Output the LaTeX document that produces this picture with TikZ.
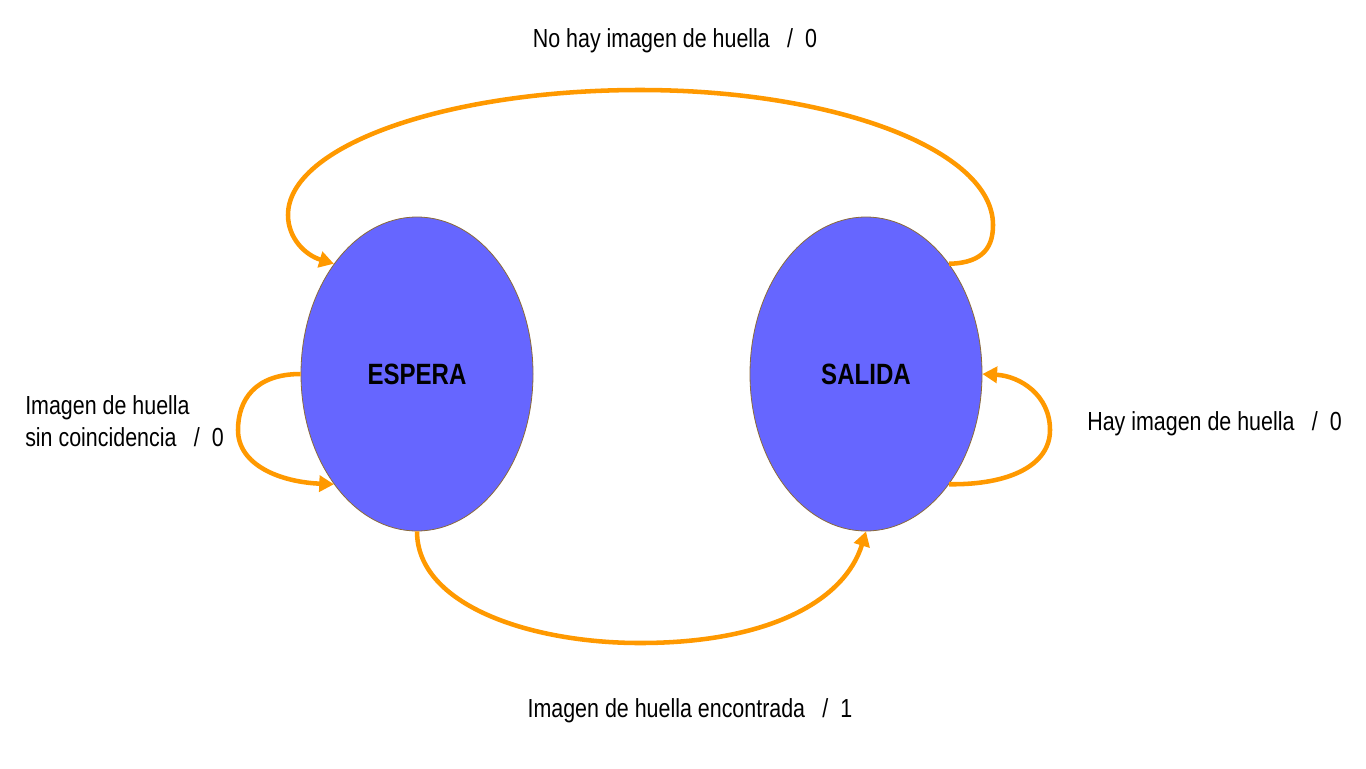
\documentclass[tikz,border=0pt]{standalone}
\usepackage{fontspec}
\setmainfont{Liberation Sans}[FakeStretch=0.82]
\usetikzlibrary{shapes.geometric,arrows.meta}
\definecolor{edgeorange}{HTML}{FF9900}
\definecolor{statefill}{HTML}{6666FF}
\definecolor{stateline}{HTML}{8A6A3A}
\tikzset{
  state/.style={ellipse, fill=statefill, draw=stateline, line width=0.6pt,
    minimum width=174pt, minimum height=235.5pt, inner sep=0pt,
    font=\fontsize{22}{24}\selectfont\bfseries},
  trans/.style={draw=edgeorange, line width=3.4pt,
    -{Triangle[length=11pt,width=12pt]}},
  lbl/.style={font=\fontsize{19.6}{24}\selectfont, inner sep=0pt}
}
\begin{document}
\begin{tikzpicture}[x=0.75pt,y=-0.75pt]
\useasboundingbox (0,0) rectangle (1366,768);
\node[state] (E) at (417,374) {ESPERA};
\node[state] (S) at (866,374) {SALIDA};
% top: SALIDA -> ESPERA
\draw[trans] (S.53.5) .. controls (985,263) and (993,245) .. (993,225)
  .. controls (993,150) and (835,90) .. (640,90)
  .. controls (446,90) and (288,146) .. (288,215)
  .. controls (288,238) and (305,255) .. (E.127);
% ESPERA self loop
\draw[trans] (E.180) .. controls (255,374) and (238,400) .. (238,430)
  .. controls (238,465) and (280,482) .. (E.233);
% SALIDA self loop
\draw[trans] (S.-53.5) .. controls (1010,485) and (1050,465) .. (1050,430)
  .. controls (1050,395) and (1020,376) .. (S.0);
% bottom: ESPERA -> SALIDA
\draw[trans] (E.-90) .. controls (417,605) and (530,643) .. (640,643)
  .. controls (770,643) and (845,600) .. (S.-90);
% labels
\node[lbl] (t1) at (675,41) {No hay imagen de huella\hspace{13pt}/\hspace{9pt}0};
\node[lbl, anchor=west] (t2) at (1087,424) {Hay imagen de huella\hspace{13pt}/\hspace{9pt}0};
\node[lbl, anchor=west, align=left] (t3) at (25,421) {Imagen de huella\\sin coincidencia\hspace{13pt}/\hspace{9pt}0};
\node[lbl] (t4) at (690,711) {Imagen de huella encontrada\hspace{13pt}/\hspace{9pt}1};
\end{tikzpicture}
\end{document}
